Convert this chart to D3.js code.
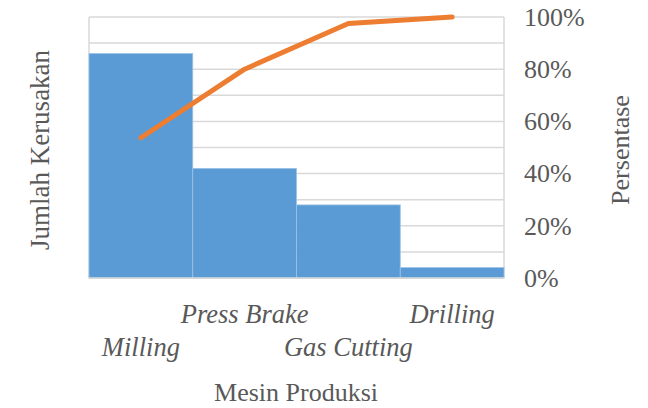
<!DOCTYPE html>
<html>
<head>
<meta charset="utf-8">
<script src="https://cdn.jsdelivr.net/npm/d3@7"></script>
<style>
  body { margin: 0; background: #fff; }
  text { font-family: "Liberation Serif", "DejaVu Serif", serif; fill: #595959; }
</style>
</head>
<body>
<svg width="648" height="408"></svg>
<script>
// data
const categories = ['Milling', 'Press Brake', 'Gas Cutting', 'Drilling'];
const counts = [43, 21, 14, 2];
const cumulative = [53.75, 80, 97.5, 100];
const pctTicks = [0, 20, 40, 60, 80, 100];

const margin = {top: 17, right: 144, bottom: 130, left: 89};
const width = 648 - margin.left - margin.right;
const height = 408 - margin.top - margin.bottom;

const svg = d3.select('svg');
const g = svg.append('g').attr('transform', `translate(${margin.left},${margin.top})`);

const x = d3.scaleBand().domain(categories).range([0, width]).padding(0);
const yCount = d3.scaleLinear().domain([0, 50]).range([height, 0]);
const yPct = d3.scaleLinear().domain([0, 100]).range([height, 0]);

// gridlines every 5 units on the count axis
g.append('g')
  .selectAll('line')
  .data(yCount.ticks(10))
  .enter()
  .append('line')
  .attr('x1', 0).attr('x2', width)
  .attr('y1', d => yCount(d)).attr('y2', d => yCount(d))
  .attr('stroke', '#d9d9d9').attr('stroke-width', 1.5);

g.append('line')
  .attr('x1', 0).attr('x2', 0).attr('y1', 0).attr('y2', height)
  .attr('stroke', '#d9d9d9').attr('stroke-width', 1.5);
g.append('line')
  .attr('x1', width).attr('x2', width).attr('y1', 0).attr('y2', height)
  .attr('stroke', '#d9d9d9').attr('stroke-width', 1.5);

// bars
g.selectAll('.bar')
  .data(categories)
  .enter()
  .append('rect')
  .attr('class', 'bar')
  .attr('x', d => x(d))
  .attr('width', x.bandwidth())
  .attr('y', (d, i) => yCount(counts[i]))
  .attr('height', (d, i) => height - yCount(counts[i]))
  .attr('fill', '#5b9bd5')
  .attr('stroke', '#9dc3e6')
  .attr('stroke-width', 0.8);

// bottom axis line
g.append('line')
  .attr('x1', 0).attr('x2', width).attr('y1', height).attr('y2', height)
  .attr('stroke', '#d9d9d9').attr('stroke-width', 1.5);

// cumulative line
const line = d3.line()
  .x((d, i) => x(categories[i]) + x.bandwidth() / 2)
  .y(d => yPct(d));

g.append('path')
  .datum(cumulative)
  .attr('d', line)
  .attr('fill', 'none')
  .attr('stroke', '#ed7d31')
  .attr('stroke-width', 5)
  .attr('stroke-linecap', 'round')
  .attr('stroke-linejoin', 'round');

// right axis labels
const rightAxis = d3.axisRight(yPct).tickValues(pctTicks).tickFormat(d => d + '%').tickSize(0).tickPadding(20);
const ra = g.append('g').attr('transform', `translate(${width},0)`).call(rightAxis);
ra.select('.domain').remove();
ra.selectAll('text').attr('font-size', 26).style('font-family', '"Liberation Serif", serif').attr('fill', '#595959');

// category labels, staggered
g.selectAll('.cat')
  .data(categories)
  .enter()
  .append('text')
  .attr('class', 'cat')
  .attr('x', d => x(d) + x.bandwidth() / 2)
  .attr('y', (d, i) => height + (i % 2 === 0 ? 78 : 45))
  .attr('text-anchor', 'middle')
  .attr('font-size', 26.5)
  .attr('font-style', 'italic')
  .text(d => d);

// axis titles
svg.append('text')
  .attr('x', 296)
  .attr('y', 401)
  .attr('text-anchor', 'middle')
  .attr('font-size', 26)
  .text('Mesin Produksi');

svg.append('text')
  .attr('transform', 'translate(49,150) rotate(-90)')
  .attr('text-anchor', 'middle')
  .attr('font-size', 27)
  .text('Jumlah Kerusakan');

svg.append('text')
  .attr('transform', 'translate(629,150) rotate(-90)')
  .attr('text-anchor', 'middle')
  .attr('font-size', 26)
  .text('Persentase');
</script>
</body>
</html>
